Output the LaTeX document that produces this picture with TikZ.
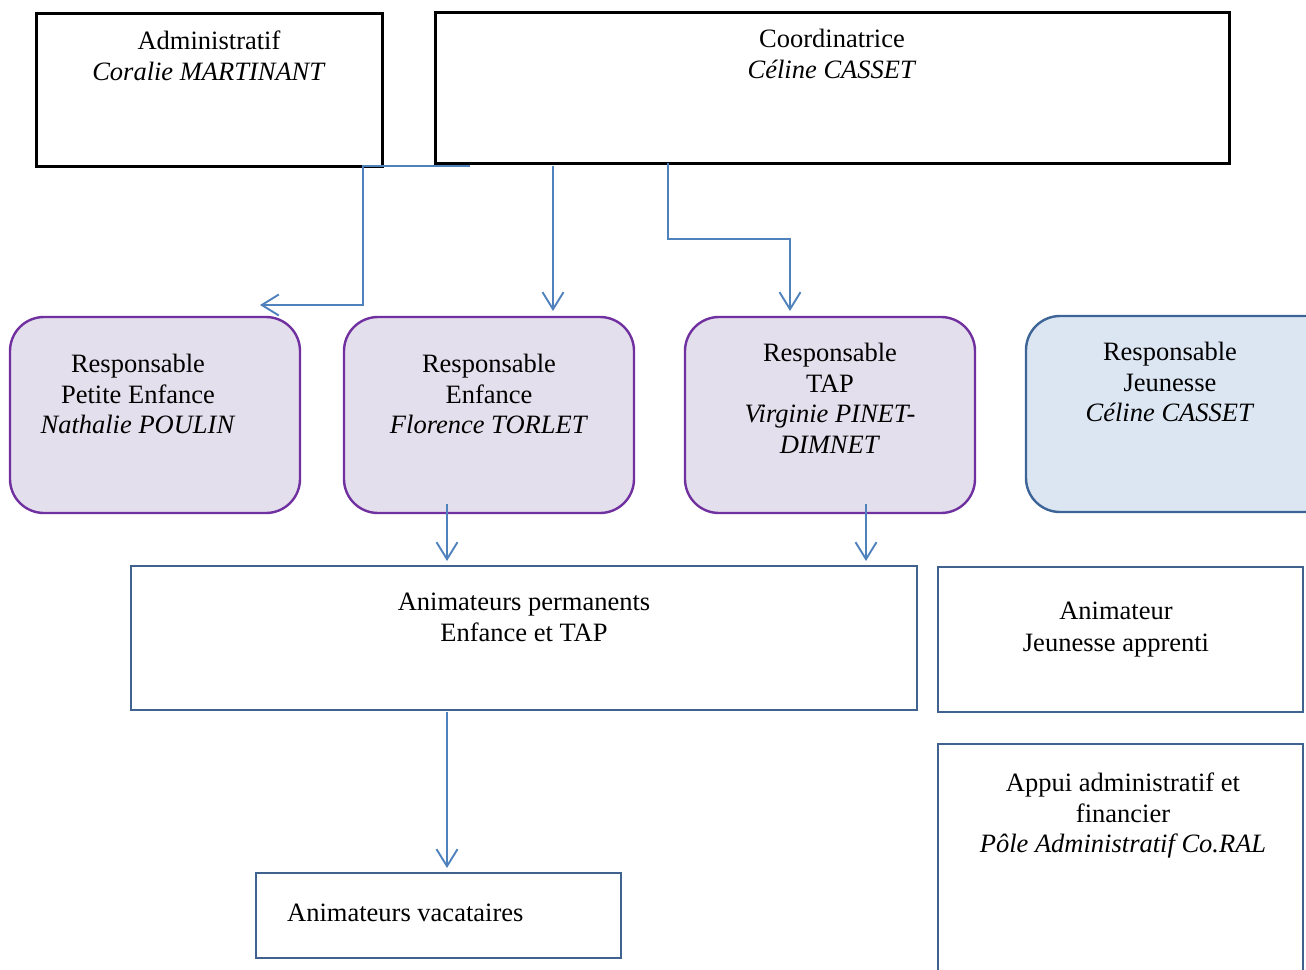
\documentclass[tikz,border=0pt]{standalone}
\usepackage{fontspec}
\setmainfont{Liberation Serif}
\usetikzlibrary{arrows.meta}
\definecolor{arrowblue}{RGB}{79,129,189}
\definecolor{boxblue}{RGB}{64,98,142}
\definecolor{purpleline}{RGB}{112,48,160}
\definecolor{purplefill}{RGB}{228,223,236}
\definecolor{bluefill}{RGB}{220,230,242}
\definecolor{jeuneline}{RGB}{61,100,150}
\tikzset{
  txt/.style={inner sep=0pt, align=center, anchor=north, font=\fontsize{26.5}{30.5}\selectfont},
  blackbox/.style={draw=black, line width=3pt},
  bluebox/.style={draw=boxblue, line width=2.6pt},
  resp/.style={draw=purpleline, fill=purplefill, line width=2.4pt, rounded corners=34pt},
  respj/.style={draw=jeuneline, fill=bluefill, line width=2.4pt, rounded corners=34pt},
  conn/.style={draw=arrowblue, line width=1.9pt},
  arr/.style={conn, -{Straight Barb[length=17pt,width=21pt,line width=1.9pt]}},
}
\begin{document}
\begin{tikzpicture}[x=1pt,y=-1pt]
\useasboundingbox (0,0) rectangle (1306,969);
\clip (0,0) rectangle (1306,969);
% boxes
\draw[blackbox] (36,13) rectangle (382,166);
\node[inner sep=0] (admin) at (209,89.5) {};
\draw[blackbox] (435,12) rectangle (1229,163);
\node[inner sep=0] (coord) at (832,87.5) {};
\draw[resp] (10,317) rectangle (300,513);
\draw[resp] (344,317) rectangle (634,513);
\draw[resp] (685,317) rectangle (975,513);
\draw[respj] (1026,316) rectangle (1340,512);
\draw[bluebox] (131,566) rectangle (917,710);
\draw[bluebox] (938,567) rectangle (1303,712);
\draw[bluebox] (938,744) rectangle (1303,1010);
\draw[bluebox] (256,873) rectangle (621,958);
% text
\node[txt] (tadmin) at (209,31) {Administratif\\\textit{Coralie MARTINANT}};
\node[txt] (tcoord) at (832,29) {Coordinatrice\\\textit{Céline CASSET}};
\node[txt] (tpe) at (138,354) {Responsable\\Petite Enfance\\\textit{Nathalie POULIN}};
\node[txt] (tenf) at (489,354) {Responsable\\Enfance\\\textit{Florence TORLET}};
\node[txt] (ttap) at (830,343) {Responsable\\TAP\\\textit{Virginie PINET-}\\\textit{DIMNET}};
\node[txt] (tjeu) at (1170,342) {Responsable\\Jeunesse\\\textit{Céline CASSET}};
\node[txt] (tperm) at (524,593) {Animateurs permanents\\Enfance et TAP};
\node[txt, font=\fontsize{26.5}{32}\selectfont] (tappr) at (1116,602) {Animateur\\Jeunesse apprenti};
\node[txt] (tappui) at (1123,773) {Appui administratif et\\financier\\\textit{Pôle Administratif Co.RAL}};
\node[txt, anchor=north west] (tvac) at (287,904) {Animateurs vacataires};
% connector end points
\coordinate (c1s) at (470,166);
\coordinate (c1e) at (260,305);
\coordinate (c2s) at (553,166);
\coordinate (c2e) at (553,311);
\coordinate (c3s) at (668,163);
\coordinate (c3e) at (790,311);
\coordinate (c4s) at (447,504);
\coordinate (c4e) at (447,561);
\coordinate (c5s) at (866,504);
\coordinate (c5e) at (866,561);
\coordinate (c6s) at (447,712);
\coordinate (c6e) at (447,868);
\draw[arr] (c1s) -- (363,166) -- (363,305) -- (c1e);
\draw[arr] (c2s) -- (c2e);
\draw[arr] (c3s) -- (668,239) -- (790,239) -- (c3e);
\draw[arr] (c4s) -- (c4e);
\draw[arr] (c5s) -- (c5e);
\draw[arr] (c6s) -- (c6e);
\end{tikzpicture}
\end{document}
